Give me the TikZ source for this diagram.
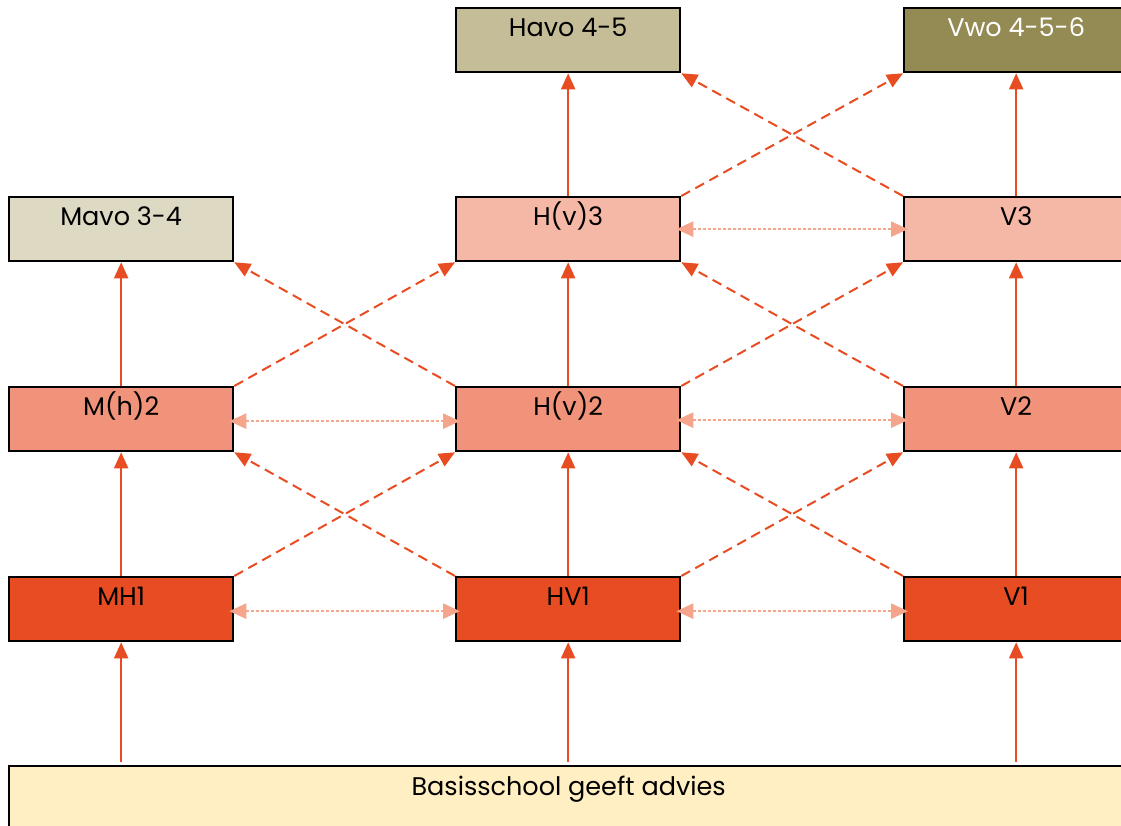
\documentclass[tikz,border=0pt]{standalone}
\usepackage{fontspec}
\setmainfont{Poppins}
\usetikzlibrary{arrows.meta}
\definecolor{arr}{RGB}{232,76,34}
\definecolor{dotc}{RGB}{244,165,140}
\definecolor{row1}{RGB}{232,76,34}
\definecolor{row2}{RGB}{241,147,122}
\definecolor{row3}{RGB}{245,184,166}
\definecolor{mavoc}{RGB}{221,217,195}
\definecolor{havoc}{RGB}{196,189,151}
\definecolor{vwoc}{RGB}{148,138,84}
\definecolor{basisc}{RGB}{255,239,194}
\tikzset{
  box/.style={draw=black, line width=2.3pt, anchor=north west, minimum width=224pt,
    inner sep=0pt, text height=28pt, text depth=36pt, align=center,
    font=\fontsize{25.5}{29}\selectfont},
  up/.style={draw=arr, line width=2pt, -{Triangle[length=16pt,width=14pt]}},
  cross/.style={draw=arr, line width=2pt, dash pattern=on 10pt off 6pt, -{Triangle[length=16pt,width=14pt]}},
  side/.style={draw=dotc, line width=2.6pt, dash pattern=on 3pt off 2pt,
    {Triangle[length=17pt,width=15pt]}-{Triangle[length=17pt,width=15pt]}, shorten <=-5pt, shorten >=-5pt},
}
\begin{document}
\begin{tikzpicture}[x=1pt,y=-1pt]
\useasboundingbox (0,0) rectangle (1121,826);
\clip (0,0) rectangle (1121,826);
% row 4 (top)
\node[box, fill=havoc] (havo) at (455,7) {Havo 4-5};
\node[box, fill=vwoc, text=white] (vwo) at (903,7) {Vwo 4-5-6};
% row 3
\node[box, fill=mavoc] (mavo) at (8,196) {Mavo 3-4};
\node[box, fill=row3] (hv3) at (455,196) {H(v)3};
\node[box, fill=row3] (v3) at (903,196) {V3};
% row 2
\node[box, fill=row2] (mh2) at (8,386) {M(h)2};
\node[box, fill=row2] (hv2) at (455,386) {H(v)2};
\node[box, fill=row2] (v2) at (903,386) {V2};
% row 1
\node[box, fill=row1] (mh1) at (8,576) {MH1};
\node[box, fill=row1] (hv1) at (455,576) {HV1};
\node[box, fill=row1] (v1) at (903,576) {V1};
% basis
\node[box, fill=basisc, minimum width=1119pt, text height=29pt, text depth=35pt] (basis) at (8,765) {Basisschool geeft advies};

% vertical arrows
\draw[up, shorten <=3pt] (basis.north -| mh1.south) -- (mh1.south);
\draw[up, shorten <=3pt] (basis.north -| hv1.south) -- (hv1.south);
\draw[up, shorten <=3pt] (basis.north -| v1.south) -- (v1.south);
\draw[up] (mh1.north) -- (mh2.south);
\draw[up] (mh2.north) -- (mavo.south);
\draw[up] (hv1.north) -- (hv2.south);
\draw[up] (hv2.north) -- (hv3.south);
\draw[up] (hv3.north) -- (havo.south);
\draw[up] (v1.north) -- (v2.south);
\draw[up] (v2.north) -- (v3.south);
\draw[up] (v3.north) -- (vwo.south);

% dashed diagonals
\draw[cross] (mh1.north east) -- (hv2.south west);
\draw[cross] (hv1.north west) -- (mh2.south east);
\draw[cross] (hv1.north east) -- (v2.south west);
\draw[cross] (v1.north west) -- (hv2.south east);
\draw[cross] (mh2.north east) -- (hv3.south west);
\draw[cross] (hv2.north west) -- (mavo.south east);
\draw[cross] (hv2.north east) -- (v3.south west);
\draw[cross] (v2.north west) -- (hv3.south east);
\draw[cross] (hv3.north east) -- (vwo.south west);
\draw[cross] (v3.north west) -- (havo.south east);

% dotted side arrows
\draw[side] ([yshift=-2pt]mh1.east) -- ([yshift=-2pt]hv1.west);
\draw[side] ([yshift=-2pt]hv1.east) -- ([yshift=-2pt]v1.west);
\draw[side] ([yshift=-2pt]mh2.east) -- ([yshift=-2pt]hv2.west);
\draw[side] ([yshift=-1pt]hv2.east) -- ([yshift=-1pt]v2.west);
\draw[side] (hv3.east) -- (v3.west);
\end{tikzpicture}
\end{document}
